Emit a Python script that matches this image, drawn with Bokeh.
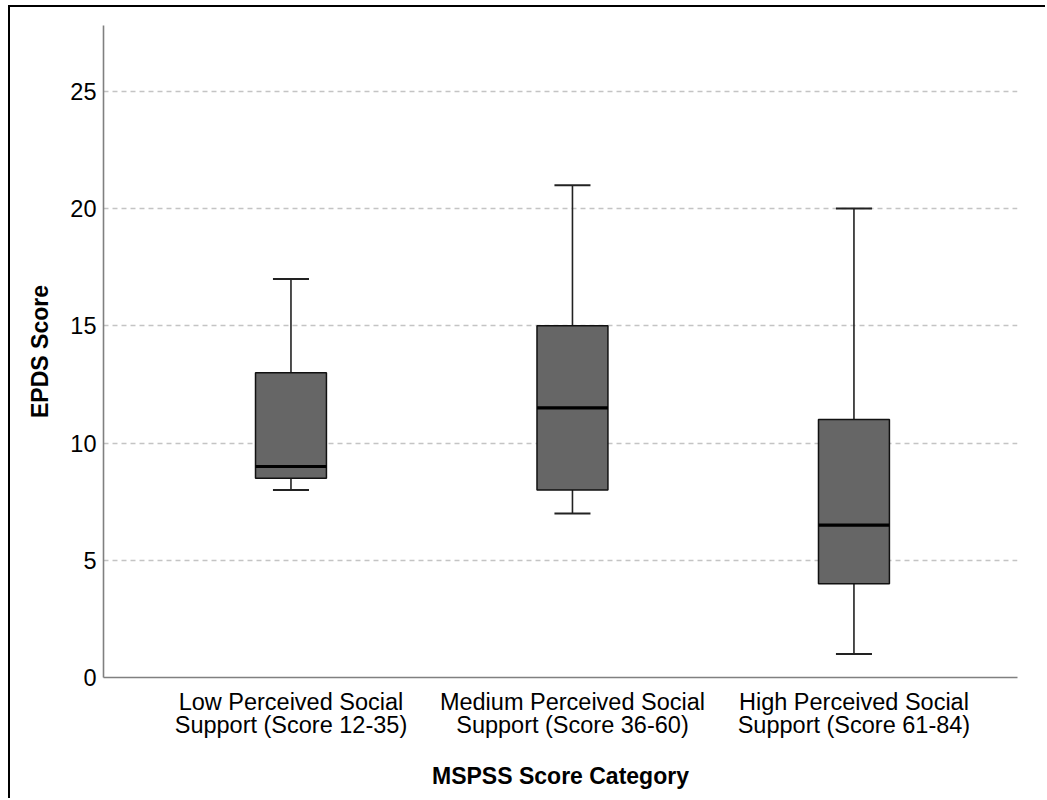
from bokeh.plotting import figure
from bokeh.models import Range1d, FixedTicker
from bokeh.embed import file_html
from bokeh.resources import INLINE

# ---- data ----
categories = [
    "Low Perceived Social\nSupport (Score 12-35)",
    "Medium Perceived Social\nSupport (Score 36-60)",
    "High Perceived Social\nSupport (Score 61-84)",
]
whisker_low = [8, 7, 1]
q1 = [8.5, 8, 4]
median = [9, 11.5, 6.5]
q3 = [13, 15, 11]
whisker_high = [17, 21, 20]
y_ticks = [0, 5, 10, 15, 20, 25]

xs = list(range(len(categories)))
BOX_W = 0.252
CAP_W = 0.128

FONT = "Liberation Sans"

p = figure(
    width=1037, height=793,
    x_range=Range1d(-0.666, 2.581), y_range=Range1d(0, 27.81),
    output_backend="svg", toolbar_location=None,
    min_border_left=93, min_border_right=30, min_border_top=18, min_border_bottom=123,
    styles={"margin-left": "8px", "margin-top": "5px",
            "border-left": "2px solid black", "border-top": "2px solid black"},
)
p.outline_line_color = None
p.background_fill_color = "white"
p.border_fill_color = "white"

# grid
p.xgrid.grid_line_color = None
p.ygrid.ticker = FixedTicker(ticks=[t for t in y_ticks if t > 0])
p.ygrid.grid_line_color = "#c4c4c4"
p.ygrid.grid_line_dash = "5 4"
p.ygrid.grid_line_width = 1.3

# whiskers
p.segment(x0=xs, y0=q3, x1=xs, y1=whisker_high, line_color="#222222", line_width=1.6)
p.segment(x0=xs, y0=whisker_low, x1=xs, y1=q1, line_color="#222222", line_width=1.6)
p.segment(x0=[x - CAP_W / 2 for x in xs], y0=whisker_high,
          x1=[x + CAP_W / 2 for x in xs], y1=whisker_high, line_color="#222222", line_width=2)
p.segment(x0=[x - CAP_W / 2 for x in xs], y0=whisker_low,
          x1=[x + CAP_W / 2 for x in xs], y1=whisker_low, line_color="#222222", line_width=2)

# boxes
p.vbar(x=xs, bottom=q1, top=q3, width=BOX_W, fill_color="#666666",
       line_color="#111111", line_width=1.5)
# medians
p.segment(x0=[x - BOX_W / 2 for x in xs], y0=median,
          x1=[x + BOX_W / 2 for x in xs], y1=median, line_color="black", line_width=3.2)

# axes
xa = p.xaxis[0]
xa.ticker = FixedTicker(ticks=xs)
xa.major_label_overrides = {i: c for i, c in zip(xs, categories)}
xa.axis_label = "MSPSS Score Category"
ya = p.yaxis[0]
ya.ticker = FixedTicker(ticks=y_ticks)
ya.axis_label = "EPDS Score"

for ax in (xa, ya):
    ax.axis_line_color = "#808080"
    ax.axis_line_width = 1.6
    ax.major_tick_line_color = None
    ax.minor_tick_line_color = None
    ax.major_label_text_font = FONT
    ax.major_label_text_font_size = "23.5px"
    ax.major_label_text_color = "black"
    ax.axis_label_text_font = FONT
    ax.axis_label_text_font_size = "23px"
    ax.axis_label_text_font_style = "bold"
    ax.axis_label_text_color = "black"

xa.major_label_standoff = 5
xa.major_label_text_line_height = 0.91
xa.axis_label_standoff = 22
ya.major_label_standoff = 1
ya.axis_label_standoff = 14

open("out.html", "w").write(file_html(p, INLINE))
